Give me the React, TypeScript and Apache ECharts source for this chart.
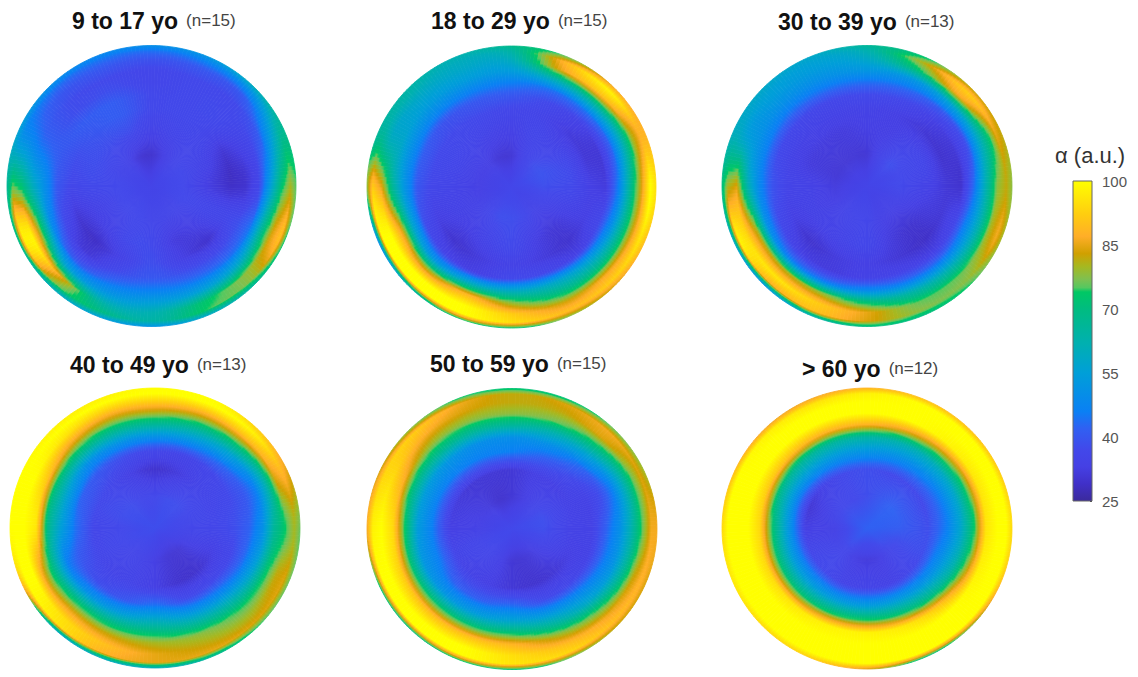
import React, { useEffect, useRef } from "react";
import * as echarts from "echarts";

const panelLabels = ["9 to 17 yo", "18 to 29 yo", "30 to 39 yo", "40 to 49 yo", "50 to 59 yo", "> 60 yo"];
const panelCounts = ["(n=15)", "(n=15)", "(n=13)", "(n=13)", "(n=15)", "(n=12)"];
const ringRadii = [0.22, 0.42, 0.55, 0.65, 0.74, 0.82, 0.9, 0.96, 1.0];
const centreValues = [35, 36, 35, 38, 37, 42];

// rows: rings from inside out; columns: 16 bearings clockwise from north
const disk1 = [
  [30, 33, 36, 37, 37, 37, 36, 36, 36, 37, 37, 37, 37, 36, 35, 31],
  [35, 36, 36, 34, 32, 36, 33, 32, 37, 37, 34, 34, 37, 38, 38, 38],
  [37, 37, 36, 30, 29, 36, 30, 33, 38, 34, 29, 31, 36, 38, 40, 41],
  [37, 37, 37, 33, 30, 38, 37, 38, 40, 37, 31, 37, 40, 40, 41, 41],
  [36, 37, 37, 36, 36, 44, 44, 45, 46, 44, 40, 48, 50, 42, 38, 38],
  [36, 37, 37, 42, 54, 66, 58, 55, 54, 52, 56, 74, 60, 44, 38, 37],
  [39, 40, 41, 56, 72, 84, 78, 72, 62, 64, 86, 98, 72, 48, 40, 40],
  [44, 46, 50, 66, 80, 90, 78, 74, 64, 70, 78, 98, 76, 50, 44, 44],
  [50, 52, 60, 68, 75, 74, 66, 58, 52, 55, 60, 68, 66, 56, 50, 48],
];
const disk2 = [
  [31, 35, 38, 39, 38, 36, 35, 37, 38, 38, 36, 34, 33, 33, 33, 31],
  [34, 36, 35, 37, 37, 34, 31, 33, 37, 35, 33, 34, 35, 36, 36, 35],
  [36, 35, 32, 31, 33, 33, 30, 32, 34, 32, 30, 33, 36, 37, 37, 37],
  [40, 37, 34, 31, 32, 36, 33, 36, 37, 33, 34, 38, 40, 41, 39, 40],
  [46, 44, 44, 42, 46, 50, 54, 58, 60, 60, 52, 58, 52, 50, 48, 47],
  [54, 62, 64, 60, 66, 68, 68, 70, 78, 88, 80, 85, 66, 58, 54, 54],
  [60, 85, 90, 80, 84, 85, 86, 84, 92, 100, 100, 100, 85, 60, 58, 58],
  [64, 88, 98, 88, 100, 96, 92, 90, 95, 100, 100, 100, 92, 66, 62, 60],
  [68, 76, 86, 88, 95, 90, 84, 78, 72, 74, 62, 50, 78, 66, 64, 62],
];
const disk3 = [
  [31, 35, 38, 37, 37, 35, 34, 34, 36, 36, 35, 33, 32, 31, 31, 31],
  [33, 33, 35, 36, 34, 32, 30, 32, 36, 35, 34, 34, 34, 32, 32, 32],
  [34, 33, 31, 30, 31, 31, 29, 31, 33, 32, 30, 33, 35, 34, 34, 34],
  [37, 36, 33, 31, 30, 35, 33, 34, 34, 32, 33, 37, 39, 37, 36, 36],
  [44, 43, 40, 38, 44, 48, 46, 46, 48, 46, 46, 50, 48, 46, 44, 44],
  [52, 52, 56, 56, 62, 62, 62, 64, 70, 78, 80, 80, 62, 52, 50, 50],
  [58, 72, 86, 72, 78, 80, 76, 76, 85, 92, 96, 94, 84, 56, 54, 54],
  [62, 80, 92, 85, 82, 86, 78, 78, 84, 90, 88, 98, 80, 60, 56, 56],
  [66, 72, 82, 82, 78, 80, 74, 70, 70, 62, 52, 58, 70, 60, 58, 58],
];
const disk4 = [
  [37, 38, 38, 37, 36, 34, 31, 31, 33, 35, 36, 37, 37, 38, 38, 37],
  [30, 32, 35, 36, 36, 33, 30, 30, 33, 35, 35, 36, 36, 37, 36, 33],
  [36, 35, 36, 37, 38, 36, 37, 38, 44, 40, 38, 40, 44, 42, 40, 38],
  [50, 48, 44, 40, 42, 44, 48, 52, 58, 54, 50, 46, 55, 56, 50, 50],
  [66, 62, 56, 46, 50, 56, 62, 66, 70, 70, 70, 66, 68, 70, 68, 66],
  [80, 76, 72, 62, 66, 72, 74, 78, 80, 82, 84, 82, 96, 92, 84, 80],
  [92, 90, 90, 84, 74, 82, 80, 82, 85, 90, 95, 100, 100, 100, 96, 92],
  [100, 100, 98, 88, 80, 84, 84, 85, 85, 88, 96, 100, 100, 100, 100, 100],
  [100, 100, 92, 84, 76, 76, 74, 66, 60, 60, 60, 90, 100, 100, 98, 98],
];
const disk5 = [
  [31, 33, 36, 38, 38, 36, 33, 31, 31, 34, 36, 36, 34, 33, 32, 30],
  [31, 33, 33, 34, 34, 33, 31, 30, 31, 33, 34, 35, 33, 32, 31, 31],
  [46, 42, 38, 34, 34, 34, 36, 38, 44, 42, 42, 46, 46, 46, 46, 46],
  [50, 50, 44, 38, 42, 44, 48, 52, 56, 54, 52, 52, 54, 54, 52, 50],
  [66, 62, 56, 46, 50, 52, 58, 66, 72, 72, 72, 72, 74, 70, 68, 66],
  [78, 76, 70, 60, 62, 66, 74, 80, 88, 90, 90, 92, 94, 88, 80, 78],
  [82, 82, 84, 76, 76, 82, 86, 90, 95, 100, 100, 100, 100, 95, 88, 84],
  [82, 84, 86, 84, 86, 88, 90, 94, 96, 100, 100, 100, 98, 94, 92, 86],
  [72, 72, 76, 80, 86, 84, 82, 76, 72, 74, 70, 74, 86, 84, 78, 74],
];
const disk6 = [
  [38, 40, 42, 42, 41, 38, 36, 33, 32, 33, 36, 35, 34, 36, 37, 37],
  [38, 37, 37, 37, 38, 38, 36, 34, 35, 35, 37, 36, 33, 31, 34, 37],
  [52, 50, 48, 46, 46, 50, 52, 54, 54, 54, 54, 54, 54, 52, 52, 52],
  [64, 62, 60, 58, 58, 62, 68, 72, 74, 74, 72, 72, 72, 68, 66, 65],
  [88, 84, 80, 76, 74, 80, 90, 96, 98, 98, 96, 94, 94, 92, 90, 88],
  [100, 100, 98, 96, 96, 98, 100, 100, 100, 100, 100, 100, 100, 100, 100, 100],
  [100, 100, 100, 100, 100, 100, 100, 100, 100, 100, 100, 100, 100, 100, 100, 100],
  [98, 100, 100, 100, 100, 100, 100, 100, 100, 100, 100, 100, 100, 100, 98, 96],
  [88, 90, 90, 92, 94, 90, 78, 72, 84, 92, 94, 96, 94, 90, 86, 86],
];
const disks = [disk1, disk2, disk3, disk4, disk5, disk6];

const colorValues = [25, 29, 33, 37, 42, 46, 55, 62, 70, 74, 75, 77, 80, 83, 87, 92, 100];
const colorHexes = ["#3b2a9c", "#4030c8", "#4540e4", "#4248ea", "#3060f2", "#0a80f4", "#009fd8", "#00b0b0", "#00bc80", "#00c864", "#55c860", "#7fc050", "#a6b820", "#d0a000", "#ffae28", "#ffcc10", "#ffff00"];

const panelBoxes = [
  { cx: 151.5, cy: 186, rx: 144.5, ry: 140.5 },
  { cx: 511.5, cy: 187, rx: 144.5, ry: 141 },
  { cx: 867, cy: 186, rx: 145, ry: 140.5 },
  { cx: 155, cy: 528, rx: 145, ry: 140 },
  { cx: 512, cy: 529, rx: 145, ry: 140.5 },
  { cx: 867, cy: 528.5, rx: 145, ry: 140.5 },
];
const titlePos = [
  { x: 72, y: 9 }, { x: 431, y: 9 }, { x: 778, y: 10 },
  { x: 70, y: 353 }, { x: 430, y: 352 }, { x: 802, y: 357 },
];

const rgbStops = colorHexes.map((h) => [1, 3, 5].map((i) => parseInt(h.slice(i, i + 2), 16)));
function colorOf(v: number): string {
  const x = Math.max(25, Math.min(100, v));
  let i = 0;
  while (i < colorValues.length - 2 && x > colorValues[i + 1]) i++;
  const t = (x - colorValues[i]) / (colorValues[i + 1] - colorValues[i]);
  const c = rgbStops[i].map((a, k) => Math.round(a + (rgbStops[i + 1][k] - a) * t));
  return `rgb(${c[0]},${c[1]},${c[2]})`;
}

const ANG = 16;
const WEDGES = 14; // smooth shading: wedges drawn per bearing
const RADIAL_STOPS = 6; // gradient stops per ring gap

function cubic(a: number, b: number, c: number, d: number, t: number) {
  return b + 0.5 * t * (c - a + t * (2 * a - 5 * b + 4 * c - d + t * (3 * (b - c) + d - a)));
}

function makeRenderItem(table: number[][], centre: number) {
  const rad = [0, ...ringRadii];
  const at = (ri: number, ai: number) => (ri === 0 ? centre : table[ri - 1][((ai % ANG) + ANG) % ANG]);
  const angular = (ri: number, ai: number, t: number) =>
    Math.max(25, Math.min(100, cubic(at(ri, ai - 1), at(ri, ai), at(ri, ai + 1), at(ri, ai + 2), t)));
  return (_p: any, api: any) => {
    const ai = api.value(0);
    const step = 360 / ANG;
    const pt = (r: number, deg: number) => {
      const a = (deg * Math.PI) / 180;
      return api.coord([r * Math.sin(a), r * Math.cos(a)]);
    };
    const children: any[] = [];
    for (let w = 0; w < WEDGES; w++) {
      const t = (w + 0.5) / WEDGES;
      const stops: any[] = [];
      for (let ri = 0; ri < rad.length - 1; ri++) {
        const v0 = angular(ri, ai, t);
        const v1 = angular(ri + 1, ai, t);
        for (let s = 0; s < RADIAL_STOPS; s++) {
          const f = s / RADIAL_STOPS;
          stops.push({ offset: rad[ri] + (rad[ri + 1] - rad[ri]) * f, color: colorOf(v0 + (v1 - v0) * f) });
        }
      }
      stops.push({ offset: 1, color: colorOf(angular(rad.length - 1, ai, t)) });
      const dMid = (ai + t) * step;
      const d0 = (ai + w / WEDGES) * step;
      const d1 = (ai + (w + 1) / WEDGES) * step;
      const c = pt(0, dMid);
      const o = pt(1, dMid);
      const grad = { type: "linear", x: c[0], y: c[1], x2: o[0], y2: o[1], global: true, colorStops: stops };
      children.push({
        type: "polygon",
        shape: { points: [c, pt(1, d0), pt(1, d1)] },
        style: { fill: grad, stroke: grad, lineWidth: 0.8 },
        silent: true,
      });
    }
    return { type: "group", children };
  };
}

export default function App() {
  const ref = useRef<HTMLDivElement>(null);
  useEffect(() => {
    const chart = echarts.init(ref.current!, undefined, { renderer: "svg" });
    const grids: any[] = panelBoxes.map((b) => ({
      left: b.cx - b.rx, top: b.cy - b.ry, width: 2 * b.rx, height: 2 * b.ry, show: false,
    }));
    const xAxes: any[] = panelBoxes.map((_, i) => ({ type: "value", min: -1, max: 1, show: false, gridIndex: i }));
    const yAxes: any[] = panelBoxes.map((_, i) => ({ type: "value", min: -1, max: 1, show: false, gridIndex: i }));
    const series: any[] = disks.map((table, i) => {
      const data: number[][] = [];
      for (let a = 0; a < ANG; a++) data.push([a, 0, ...table.map((row) => row[a])]);
      return {
        type: "custom", coordinateSystem: "cartesian2d", xAxisIndex: i, yAxisIndex: i,
        silent: true, clip: false, data, encode: { x: 0, y: 1 },
        renderItem: makeRenderItem(table, centreValues[i]),
      };
    });
    // colour bar
    grids.push({ left: 1073, top: 181, width: 19, height: 320, show: true, borderColor: "#666", borderWidth: 1, backgroundColor: "transparent", z: 5 });
    xAxes.push({ type: "category", data: ["α"], show: false, gridIndex: 6 });
    yAxes.push({
      type: "value", min: 25, max: 100, interval: 15, position: "right", gridIndex: 6,
      axisLine: { show: false }, splitLine: { show: false },
      axisTick: { show: true, inside: true, length: 2, lineStyle: { color: "#444" } },
      axisLabel: { color: "#555", fontSize: 15, fontFamily: "Liberation Sans", margin: 10 },
    });
    series.push({
      type: "bar", xAxisIndex: 6, yAxisIndex: 6, barWidth: "100%", silent: true, data: [100],
      itemStyle: {
        color: new echarts.graphic.LinearGradient(0, 1, 0, 0,
          colorValues.map((v, i) => ({ offset: (v - 25) / 75, color: colorHexes[i] }))),
      },
    });
    const titles: any[] = panelLabels.map((t, i) => ({
      text: `{b|${t}}{n|${panelCounts[i]}}`,
      left: titlePos[i].x, top: titlePos[i].y, padding: 0,
      textStyle: {
        fontWeight: "normal",
        rich: {
          b: { fontFamily: "Liberation Sans", fontWeight: "bold", fontSize: 23, color: "#111" },
          n: { fontFamily: "Liberation Sans", fontWeight: "normal", fontSize: 17, color: "#444", padding: [0, 0, 0, 8] },
        },
      },
    }));
    titles.push({
      text: "α (a.u.)", left: 1055, top: 144, padding: 0,
      textStyle: { fontFamily: "Liberation Sans", fontWeight: "normal", fontSize: 22, color: "#333" },
    });
    chart.setOption({
      animation: false, backgroundColor: "#fff",
      title: titles, grid: grids, xAxis: xAxes, yAxis: yAxes, series,
    });
    return () => chart.dispose();
  }, []);
  return <div ref={ref} style={{ position: "fixed", left: 0, top: 0, width: 1138, height: 677 }} />;
}
